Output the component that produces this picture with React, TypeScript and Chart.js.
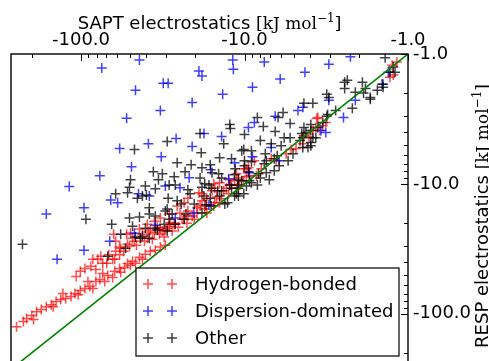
import React, { useEffect, useRef } from 'react';
import { Chart, registerables } from 'chart.js';

Chart.register(...registerables);

// Electrostatic interaction energies [kJ/mol] as [SAPT, RESP] pairs.
const hydrogenBonded: number[][] = [
  [-248, -126], [-225, -115], [-215, -109], [-200, -103], [-187, -96.4], [-175, -93.0], [-163, -88.3],
  [-152, -85.2], [-142, -80.7], [-133, -77.9], [-124, -76.5], [-115, -73.8], [-109, -70.0], [-101, -66.3],
  [-94.6, -64.0], [-88.2, -61.8], [-81.1, -56.5], [-76.7, -54.5], [-68.6, -50.8], [-62.2, -47.2],
  [-58.1, -44.8], [-54.1, -44.0], [-51.9, -41.0], [-195, -111], [-148, -88.3], [-104, -71.4],
  [-84.6, -64.0], [-71.6, -56.5], [-64.0, -52.6], [-57.2, -48.0], [-48.4, -39.5],
  [-43.9, -36.7], [-40.4, -34.9], [-37.7, -33.1], [-35.1, -32.5], [-32.7, -30.7], [-30.5, -29.7],
  [-42.1, -38.1], [-46.4, -40.9], [-49.8, -42.4],
  [-107, -51.7], [-101, -47.2], [-94.6, -44.8], [-87.0, -43.2], [-84.6, -38.1], [-78.9, -38.1],
  [-75.6, -36.1], [-73.6, -40.9], [-67.6, -35.2], [-61.4, -33.1], [-62.2, -38.1], [-58.1, -35.2],
  [-57.2, -31.3], [-54.8, -33.1], [-51.9, -29.2], [-50.5, -30.2], [-47.1, -27.7], [-48.4, -26.2],
  [-43.3, -26.2], [-42.1, -24.4], [-39.3, -26.2], [-38.7, -23.5], [-37.7, -22.7], [-35.6, -23.9],
  [-33.1, -24.4], [-32.7, -22.3], [-30.5, -22.7], [-28.9, -21.2], [-28.5, -19.8], [-39.3, -20.5],
  [-26.5, -20.1], [-24.1, -18.7], [-22.2, -17.7], [-19.5, -16.8], [-17.5, -15.6], [-15.4, -14.8],
  [-14.2, -14.0], [-63.1, -24.4], [-61.4, -27.7], [-52.6, -24.4],
  [-49.8, -23.9], [-43.9, -22.3], [-35.6, -19.4], [-32.7, -18.3], [-31.8, -23.1], [-29.7, -22.0],
  [-28.9, -17.1], [-26.9, -20.5], [-25.8, -14.8], [-24.8, -16.8], [-23.4, -18.7], [-23.4, -14.0],
  [-22.2, -16.2], [-20.9, -17.7], [-19.5, -15.3], [-18.2, -11.9], [-18.2, -13.5], [-17.5, -14.8],
  [-15.8, -11.3], [-15.4, -10.0], [-15.2, -14.0], [-14.2, -9.82], [-13.8, -13.0], [-12.9, -10.8],
  [-12.5, -9.31], [-12.5, -11.9], [-11.2, -8.37], [-11.2, -10.8], [-10.1, -7.66], [-10.1, -9.48],
  [-9.46, -7.52], [-9.33, -8.67], [-12.0, -10.2], [-11.5, -9.48], [-10.9, -9.00],
  [-8.70, -6.63], [-8.46, -8.67], [-6.86, -6.41], [-5.56, -5.86], [-5.19, -5.45], [-3.82, -3.88],
  [-3.56, -3.08], [-3.46, -3.88], [-3.18, -3.37], [-4.33, -4.25], [-3.66, -3.68], [-1.25, -1.22],
  [-1.23, -1.45], [-1.29, -1.51], [-1.17, -1.15], [-15.2, -10.8], [-12.3, -10.2], [-3.61, -3.14],
  [-4.40, -4.90], [-9.73, -7.66], [-3.32, -3.55], [-19.0, -11.7], [-22.2, -12.9], [-17.0, -13.0],
  [-129, -70.0], [-90.7, -56.5], [-73.6, -49.0], [-81.1, -45.6], [-69.6, -40.9], [-64.0, -38.1],
  [-58.1, -30.7], [-45.8, -29.7], [-40.9, -27.7], [-36.6, -26.7], [-34.1, -21.6], [-31.0, -25.7],
  [-27.7, -23.1], [-25.4, -21.6], [-22.5, -20.1], [-20.3, -18.7], [-17.0, -16.8], [-18.7, -14.8],
  [-14.8, -12.6], [-13.4, -11.3], [-10.7, -10.2], [-9.73, -8.83], [-7.89, -7.66], [-6.40, -6.63],
  [-4.84, -5.35], [-4.03, -4.33],
];

const dispersionDominated: number[][] = [
  [-74.6, -1.28], [-43.9, -1.11], [-46.4, -1.90], [-31.4, -1.68], [-29.3, -1.68], [-19.0, -1.35],
  [-18.2, -1.48], [-32.7, -2.72], [-20.9, -2.36], [-13.6, -2.04], [-11.8, -1.11], [-11.7, -1.31],
  [-52.6, -3.13], [-58.0, -5.35], [-38.7, -4.90], [-26.2, -4.48], [-17.7, -4.10], [-20.9, -5.16],
  [-13.8, -4.32], [-9.46, -3.68], [-32.3, -6.18], [-49.1, -7.38], [-76.7, -8.67], [-118, -10.5],
  [-30.5, -10.4], [-21.8, -8.98], [-16.1, -7.78], [-44.5, -11.9], [-38.2, -12.4], [-24.8, -10.7],
  [-65.8, -13.3], [-7.57, -1.15], [-3.05, -1.20], [-2.25, -1.05], [-4.27, -1.38], [-6.05, -1.56],
  [-8.94, -1.80], [-3.05, -2.27], [-4.71, -2.72], [-4.39, -2.57], [-6.49, -3.02], [-8.70, -3.37],
  [-2.48, -3.08], [-8.94, -6.18], [-6.86, -5.26], [-12.5, -9.14], [-3.41, -3.88], [-2.10, -2.27],
  [-163, -17.1], [-95.9, -15.3], [-59.7, -14.0], [-140, -38.1], [-95.9, -32.5], [-66.7, -27.7],
  [-47.1, -24.0], [-35.1, -20.8], [-20.4, -16.8], [-16.5, -14.5], [-11.5, -6.87], [-9.33, -8.22],
  [-26.5, -18.3], [-6.14, -6.63], [-1.42, -1.71], [-1.32, -1.38], [-3.18, -4.02],
];

const other: number[][] = [
  [-12.3, -3.49], [-12.2, -3.74], [-18.7, -4.10], [-13.4, -4.90], [-29.7, -4.72], [-47.1, -5.45],
  [-18.4, -5.76], [-14.2, -6.30], [-12.0, -6.41], [-25.8, -6.87], [-21.2, -7.12], [-18.2, -7.52],
  [-10.4, -5.55], [-15.8, -8.22], [-49.8, -9.31], [-36.1, -8.07], [-31.8, -8.37], [-33.6, -9.31],
  [-26.9, -8.83], [-23.1, -8.07], [-18.7, -9.00], [-50.5, -10.6], [-40.4, -10.4], [-35.1, -10.9],
  [-26.5, -10.2], [-29.3, -12.9], [-39.8, -12.2], [-61.4, -11.9], [-22.2, -11.1], [-18.2, -10.6],
  [-14.6, -11.3], [-12.3, -10.2], [-10.9, -9.31], [-9.46, -8.07], [-10.0, -6.63], [-16.2, -12.9],
  [-14.2, -12.4], [-11.5, -12.4], [-10.1, -5.45], [-16.2, -7.12], [-14.4, -8.37], [-13.8, -9.00],
  [-11.5, -8.52], [-10.4, -9.48], [-28.9, -10.2], [-17.5, -10.0], [-16.0, -10.8], [-13.8, -11.3],
  [-12.0, -10.8], [-9.73, -10.4], [-51.9, -11.7], [-45.2, -12.9], [-25.8, -13.5], [-21.5, -11.9],
  [-17.7, -12.4], [-50.5, -18.3], [-38.2, -17.1], [-30.5, -16.2], [-28.9, -18.7], [-22.8, -17.1],
  [-35.1, -22.0], [-42.1, -25.3], [-38.2, -26.2], [-18.2, -16.8], [-16.0, -14.8], [-12.7, -14.0],
  [-11.2, -11.9],
  [-5.81, -2.82], [-8.34, -3.08], [-7.67, -3.61], [-10.0, -4.17], [-5.26, -3.43], [-6.49, -3.95],
  [-5.72, -4.41], [-5.26, -4.41], [-8.00, -4.64], [-6.86, -4.90], [-5.97, -5.08], [-4.46, -4.10],
  [-3.93, -3.49], [-3.14, -3.02], [-3.93, -4.81], [-3.66, -4.41], [-4.40, -5.26], [-7.46, -5.86],
  [-5.05, -5.86], [-5.41, -6.63], [-6.58, -6.41], [-9.07, -6.75], [-7.57, -7.00], [-6.14, -7.25],
  [-6.58, -7.93], [-10.0, -7.25], [-11.4, -7.66], [-7.36, -8.22], [-7.05, -9.31], [-8.00, -9.00],
  [-9.07, -9.82], [-11.0, -10.2], [-8.34, -10.2], [-10.9, -12.4],
  [-1.38, -1.07], [-2.44, -1.65], [-1.90, -1.65], [-2.44, -1.84], [-2.10, -1.97], [-1.82, -1.84],
  [-1.70, -2.16], [-1.54, -1.90], [-1.42, -1.80], [-2.19, -2.62], [-3.14, -2.04], [-3.05, -2.16],
  [-4.33, -2.40], [-3.82, -2.40], [-6.23, -3.08], [-9.07, -5.55], [-4.33, -3.68], [-4.58, -4.64],
  [-6.31, -6.07], [-7.36, -6.63], [-8.22, -8.37], [-9.33, -9.48], [-10.9, -10.8], [-10.1, -11.9],
  [-16.5, -10.2],
  [-1.29, -1.38], [-2.35, -1.59], [-1.87, -2.00], [-1.70, -2.23], [-2.77, -2.72], [-3.10, -2.92],
  [-3.32, -3.37], [-3.56, -3.68], [-3.93, -3.88], [-4.21, -4.03], [-4.40, -4.41], [-3.82, -4.41],
  [-3.93, -5.08], [-4.09, -5.26], [-1.20, -1.38], [-1.23, -1.26], [-1.44, -1.71],
  [-42.1, -12.4], [-93.3, -18.7], [-64.9, -20.5], [-43.9, -18.0], [-38.2, -15.3], [-35.1, -17.7],
  [-29.7, -15.6], [-48.4, -21.2], [-57.2, -24.4], [-43.3, -26.2], [-34.1, -22.7], [-31.0, -20.5],
  [-29.7, -23.1], [-53.4, -31.3], [-68.6, -36.1], [-228, -29.2], [-46.4, -25.7], [-40.4, -22.0],
  [-27.7, -17.1], [-26.5, -20.5], [-24.4, -14.3], [-23.4, -18.7], [-20.3, -14.3], [-17.2, -14.5],
  [-13.2, -14.3],
];

const seriesNames = ['Hydrogen-bonded', 'Dispersion-dominated', 'Other'];
const seriesColors = ['rgba(255,0,0,0.7)', 'rgba(0,0,255,0.75)', 'rgba(0,0,0,0.75)'];
const saptLimits = [-1, -268];
const respLimits = [-1, -255];
const parityLine = [-1, -268];
const labelledTicks = [-1, -10, -100];

const SANS = 'DejaVu Sans';
const SERIF = 'DejaVu Serif';
const MARK_R = 5;
const MARK_W = 1.5;
const CANVAS_W = 489;
const CANVAS_H = 373;

const toPoints = (pairs: number[][]) => pairs.map(([sapt, resp]) => ({ x: -sapt, y: -resp }));

// 'major' for 1, 10, 100...; 'minor' for 2..9 x 10^k; null otherwise
function tickKind(v: number): string | null {
  const e = Math.floor(Math.log10(v) + 1e-9);
  const m = v / Math.pow(10, e);
  if (Math.abs(m - Math.round(m)) > 1e-6) return null;
  return Math.round(m) === 1 ? 'major' : 'minor';
}

function cross(ctx: CanvasRenderingContext2D, x: number, y: number, r: number) {
  ctx.beginPath();
  ctx.moveTo(x - r, y);
  ctx.lineTo(x + r, y);
  ctx.moveTo(x, y - r);
  ctx.lineTo(x, y + r);
  ctx.stroke();
}

type Part = { text: string; font: string; rise?: number };

function drawTitle(ctx: CanvasRenderingContext2D, parts: Part[], x: number, y: number, angle: number) {
  ctx.save();
  ctx.translate(x, y);
  ctx.rotate(angle);
  let total = 0;
  for (const p of parts) {
    ctx.font = p.font;
    total += ctx.measureText(p.text).width;
  }
  let cx = -total / 2;
  ctx.textAlign = 'left';
  ctx.textBaseline = 'alphabetic';
  ctx.fillStyle = '#000';
  for (const p of parts) {
    ctx.font = p.font;
    ctx.fillText(p.text, cx, -(p.rise || 0));
    cx += ctx.measureText(p.text).width;
  }
  ctx.restore();
}

const unitParts: Part[] = [
  { text: '[kJ mol', font: `17px "${SERIF}"` },
  { text: '\u22121', font: `12px "${SERIF}"`, rise: 7 },
  { text: ']', font: `17px "${SERIF}"` },
];

const decorations = {
  id: 'decorations',
  afterDatasetsDraw(chart: any) {
    const { ctx, chartArea: a, scales } = chart;
    const xs = scales.x;
    const ys = scales.y;
    ctx.save();
    ctx.strokeStyle = '#000';
    ctx.lineWidth = 1;
    for (const t of xs.ticks) {
      const kind = tickKind(t.value);
      if (!kind) continue;
      const px = Math.round(xs.getPixelForValue(t.value)) + 0.5;
      ctx.beginPath();
      ctx.moveTo(px, a.top);
      ctx.lineTo(px, a.top + (kind === 'major' ? 7 : 4));
      ctx.stroke();
    }
    for (const t of ys.ticks) {
      const kind = tickKind(t.value);
      if (!kind) continue;
      const py = Math.round(ys.getPixelForValue(t.value)) + 0.5;
      ctx.beginPath();
      ctx.moveTo(a.right, py);
      ctx.lineTo(a.right - (kind === 'major' ? 7 : 4), py);
      ctx.stroke();
    }
    ctx.lineWidth = 1.4;
    ctx.strokeRect(a.left, a.top, a.right - a.left, a.bottom - a.top);

    // legend, lower right
    const bx = a.left + 125;
    const by = a.top + 214;
    const bw = a.right - 9 - bx;
    const bh = 88;
    ctx.fillStyle = '#fff';
    ctx.fillRect(bx, by, bw, bh);
    ctx.lineWidth = 1.2;
    ctx.strokeStyle = '#000';
    ctx.strokeRect(bx, by, bw, bh);
    ctx.font = `18px "${SANS}"`;
    ctx.textBaseline = 'middle';
    ctx.textAlign = 'left';
    seriesNames.forEach((name, i) => {
      const ry = by + 16 + i * 27;
      ctx.strokeStyle = seriesColors[i];
      ctx.lineWidth = MARK_W;
      cross(ctx, bx + 12, ry, MARK_R);
      cross(ctx, bx + 36, ry, MARK_R);
      ctx.fillStyle = '#000';
      ctx.fillText(name, bx + 59, ry + 1);
    });
    ctx.restore();
  },
  afterDraw(chart: any) {
    const { ctx, chartArea: a } = chart;
    const cx = (a.left + a.right) / 2;
    drawTitle(ctx, [{ text: 'SAPT electrostatics ', font: `18px "${SANS}"` }, ...unitParts], cx, 29, 0);
    drawTitle(ctx, [{ text: 'RESP electrostatics ', font: `18px "${SANS}"` }, ...unitParts], 488, 216, -Math.PI / 2);
  },
};

export default function App() {
  const canvasRef = useRef<HTMLCanvasElement | null>(null);

  useEffect(() => {
    const canvas = canvasRef.current;
    if (!canvas) return;
    const crossStyle = (color: string) => ({
      pointStyle: 'cross',
      pointRadius: MARK_R,
      pointBorderWidth: MARK_W,
      borderColor: color,
      backgroundColor: color,
      showLine: false,
    });
    const tickLabel = (v: any) => (labelledTicks.includes(-Number(v)) ? (-Number(v)).toFixed(1) : '');
    const chart = new Chart(canvas, {
      type: 'scatter',
      data: {
        datasets: [
          {
            label: 'y = x',
            data: [
              { x: -parityLine[0], y: -parityLine[0] },
              { x: -parityLine[1], y: -parityLine[1] },
            ],
            showLine: true,
            borderColor: '#008000',
            borderWidth: 1.6,
            pointRadius: 0,
            order: 0,
          },
          { label: seriesNames[2], data: toPoints(other), ...crossStyle(seriesColors[2]), order: 1 },
          { label: seriesNames[1], data: toPoints(dispersionDominated), ...crossStyle(seriesColors[1]), order: 2 },
          { label: seriesNames[0], data: toPoints(hydrogenBonded), ...crossStyle(seriesColors[0]), order: 3 },
        ] as any,
      },
      options: {
        animation: false,
        responsive: false,
        devicePixelRatio: 1,
        events: [],
        layout: { padding: { left: 11, top: 0, right: 0, bottom: 2 } },
        font: { family: SANS },
        plugins: { legend: { display: false }, tooltip: { enabled: false } },
        scales: {
          x: {
            type: 'logarithmic',
            position: 'top',
            reverse: true,
            min: -saptLimits[0],
            max: -saptLimits[1],
            grid: { display: false, drawTicks: false },
            border: { display: false },
            ticks: {
              autoSkip: false,
              maxRotation: 0,
              padding: 3,
              color: '#000',
              font: { family: SANS, size: 18 },
              callback: tickLabel,
            },
            afterFit: (s: any) => {
              s.height = 54;
              s.paddingLeft = 0;
              s.paddingRight = 0;
            },
          },
          y: {
            type: 'logarithmic',
            position: 'right',
            reverse: true,
            min: -respLimits[0],
            max: -respLimits[1],
            grid: { display: false, drawTicks: false },
            border: { display: false },
            ticks: {
              autoSkip: false,
              padding: 5,
              color: '#000',
              font: { family: SANS, size: 18 },
              callback: tickLabel,
            },
            afterFit: (s: any) => {
              s.width = 81;
              s.paddingTop = 0;
              s.paddingBottom = 0;
            },
          },
        },
      } as any,
      plugins: [decorations],
    });
    return () => chart.destroy();
  }, []);

  return (
    <div style={{ position: 'fixed', left: 0, top: 0, width: CANVAS_W, height: CANVAS_H, background: '#fff' }}>
      <canvas ref={canvasRef} width={CANVAS_W} height={CANVAS_H} style={{ display: 'block' }} />
    </div>
  );
}
